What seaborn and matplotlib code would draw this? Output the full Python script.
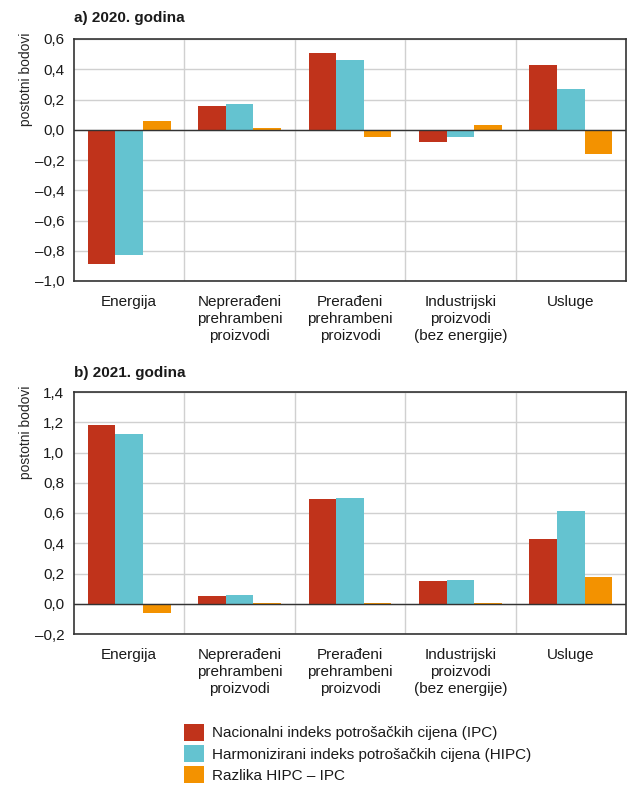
import matplotlib
matplotlib.use("Agg")
import matplotlib.pyplot as plt
import matplotlib.ticker as mticker
from matplotlib.patches import Patch
import seaborn as sns
import pandas as pd

# data
kategorije = ["Energija", "Neprerađeni\nprehrambeni\nproizvodi", "Prerađeni\nprehrambeni\nproizvodi",
              "Industrijski\nproizvodi\n(bez energije)", "Usluge"]
serije = ["Nacionalni indeks potrošačkih cijena (IPC)",
          "Harmonizirani indeks potrošačkih cijena (HIPC)",
          "Razlika HIPC – IPC"]
ipc_2020 = [-0.89, 0.16, 0.51, -0.08, 0.43]
hipc_2020 = [-0.83, 0.17, 0.46, -0.05, 0.27]
razlika_2020 = [0.06, 0.01, -0.05, 0.03, -0.16]
ipc_2021 = [1.18, 0.05, 0.69, 0.15, 0.43]
hipc_2021 = [1.12, 0.06, 0.70, 0.16, 0.61]
razlika_2021 = [-0.06, 0.005, 0.005, 0.003, 0.18]
boje = ["#c0331b", "#64c3d0", "#f39200"]

sns.set_style("white")
plt.rcParams['font.family'] = ['Liberation Sans', 'DejaVu Sans']
plt.rcParams['font.size'] = 11
plt.rcParams['text.color'] = '#1a1a1a'


def long_df(a, b, c):
    rows = []
    for s, vals in zip(serije, [a, b, c]):
        for k, v in zip(kategorije, vals):
            rows.append({"kategorija": k, "serija": s, "vrijednost": v})
    return pd.DataFrame(rows)


def fmt(x, pos):
    s = f"{abs(x):.1f}".replace(".", ",")
    return ("–" + s) if x < -1e-9 else s


def panel(ax, df, ylim, naslov, ytop):
    sns.barplot(data=df, x="kategorija", y="vrijednost", hue="serija",
                palette=boje, saturation=1, width=0.75, linewidth=0,
                ax=ax, legend=False, order=kategorije, hue_order=serije)
    ax.set_xlim(-0.5, 4.5)
    ax.set_ylim(*ylim)
    ax.set_yticks([round(ylim[0] + 0.2 * i, 1) for i in range(int(round((ylim[1] - ylim[0]) / 0.2)) + 1)])
    ax.yaxis.set_major_formatter(mticker.FuncFormatter(fmt))
    ax.set_xticks([0.5, 1.5, 2.5, 3.5], minor=True)
    ax.grid(axis="y", which="major", color="#d0d0d0", linewidth=1)
    ax.grid(axis="x", which="minor", color="#d0d0d0", linewidth=1)
    ax.set_axisbelow(True)
    ax.axhline(0, color="#333333", linewidth=1)
    for sp in ax.spines.values():
        sp.set_color("#333333")
        sp.set_linewidth(1.2)
    ax.tick_params(axis="both", which="both", length=0, labelsize=11, pad=7,
                   labelcolor="#1a1a1a")
    ax.tick_params(axis="x", pad=10)
    for t in ax.get_xticklabels():
        t.set_linespacing(1.3)
    ax.set_xlabel("")
    ax.set_ylabel("postotni bodovi", fontsize=10)
    ax.yaxis.set_label_coords(-0.075, 0.835)
    fig.text(74 / 627, ytop, naslov, fontsize=11, fontweight="bold",
             ha="left", va="center")


fig = plt.figure(figsize=(6.27, 7.94), dpi=100)
ax1 = fig.add_axes([74 / 627, (794 - 281) / 794, 552 / 627, 242 / 794])
ax2 = fig.add_axes([74 / 627, (794 - 634) / 794, 552 / 627, 242 / 794])

panel(ax1, long_df(ipc_2020, hipc_2020, razlika_2020), (-1.0, 0.6), "a) 2020. godina", 1 - 18 / 794)
panel(ax2, long_df(ipc_2021, hipc_2021, razlika_2021), (-0.2, 1.4), "b) 2021. godina", 1 - 373 / 794)

handles = [Patch(facecolor=c, edgecolor="none") for c in boje]
fig.legend(handles, serije, loc="upper left", bbox_to_anchor=(184 / 627, 1 - 724 / 794),
           frameon=False, fontsize=11, handlelength=1.3, handleheight=1.3,
           handletextpad=0.5, labelspacing=0.3, borderpad=0, borderaxespad=0)

fig.savefig("out.png", dpi=100)
